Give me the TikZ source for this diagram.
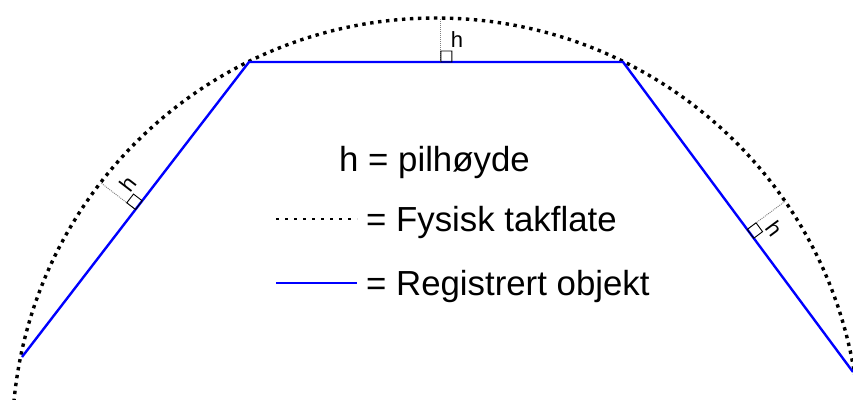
\documentclass[tikz,border=0pt]{standalone}
\usepackage{fontspec}
\setmainfont{Liberation Sans}
\usetikzlibrary{calc}

\begin{document}
\begin{tikzpicture}[x=1pt,y=1pt,
    roof/.style={line width=3.4pt, dash pattern=on 3.4pt off 4.6pt},
    roofsample/.style={line width=2.8pt, dash pattern=on 2.8pt off 6.2pt},
    registered/.style={blue, line width=2.4pt},
    sag/.style={gray, line width=0.9pt, dash pattern=on 1pt off 1pt},
    rightangle/.style={black, line width=0.9pt},
    legend/.style={font=\fontsize{34.8}{40}\selectfont, anchor=base west, inner sep=0pt}]
        \useasboundingbox (0,0) rectangle (853,399);

          \coordinate (c) at (436,-43);
          \coordinate (a) at (22,42);
          \coordinate (b) at (249,337);
          \coordinate (d) at (623,337);
          \coordinate (e) at (853,27);

          % physical roof surface
          \begin{scope}
            \clip (0,0) rectangle (853,399);
            \draw[roof] (c) ++(180:424) arc[start angle=180, end angle=0, radius=424];
          \end{scope}

          % registered object
          \draw[registered] (a) -- (b) -- (d) -- (e);

          % sagitta marks
          \foreach \p/\q/\t/\s/\r/\i in {a/b/0.5/44/52.4/1, b/d/0.513/44/0/2, d/e/0.54/47/-53.4/3}{
            \coordinate (foot\i) at ($(\p)!\t!(\q)$);
            \coordinate (top\i) at ($(foot\i)!\s pt!90:(\q)$);
            \draw[sag] (foot\i) -- (top\i);
            \draw[rightangle] (foot\i) -- ($(foot\i)!11pt!(\q)$) -- ($(foot\i)!15.556pt!45:(\q)$)
              -- ($(foot\i)!11pt!90:(\q)$) -- cycle;
            \coordinate (along\i) at ($(foot\i)!16pt!(\q)$);
            \node[font=\fontsize{22}{26}\selectfont, inner sep=0pt, rotate=\r] (h\i)
              at ($(along\i)!22pt!90:(\q)$) {h};
          }

          % legend
          \coordinate (dl) at (276,180);
          \coordinate (dr) at (357,180);
          \coordinate (bl) at (276,116);
          \coordinate (br) at (357,116);
          \draw[roofsample] (dl) -- (dr);
          \draw[registered] (bl) -- (br);

          \node[legend] (hdef) at (339,227) {h = pilhøyde};
          \node[legend] (roofdef) at (366,167) {= Fysisk takflate};
          \node[legend] (objdef) at (366,104) {= Registrert objekt};
        \end{tikzpicture}
\end{document}
